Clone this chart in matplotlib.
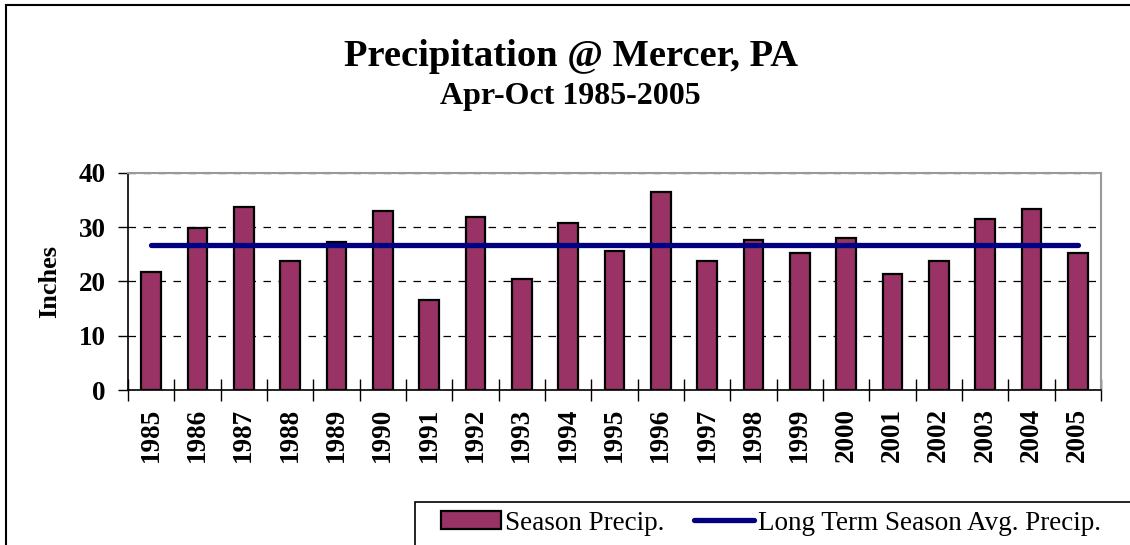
import numpy as np
import matplotlib.pyplot as plt
from matplotlib.patches import Rectangle

years = [str(y) for y in range(1985, 2006)]
season_precip = [21.7, 29.9, 33.8, 23.7, 27.3, 33.0, 16.6, 31.8, 20.5, 30.7, 25.6,
                 36.5, 23.7, 27.6, 25.2, 28.0, 21.3, 23.7, 31.5, 33.4, 25.2]
long_term_avg = 26.7

plt.rcParams['font.family'] = ['Liberation Serif', 'DejaVu Serif']

fig = plt.figure(figsize=(11.3, 5.45), dpi=100)
ax = fig.add_axes([0.1133, 0.2844, 0.861, 0.3982])

x = np.arange(len(years))
bars = ax.bar(x, season_precip, width=0.42, color='#993366', edgecolor='black',
              linewidth=1.6, zorder=3, label='Season Precip.')
avg_line, = ax.plot([x[0], x[-1]], [long_term_avg] * 2, color='#000080', lw=3.8,
                    solid_capstyle='round', zorder=4,
                    label='Long Term Season Avg. Precip.')

ax.set_xlim(-0.5, len(years) - 0.5)
ax.set_ylim(0, 40)
ax.set_yticks([0, 10, 20, 30, 40])
ax.yaxis.grid(True, color='black', linestyle=(0, (6, 6)), lw=0.9)
ax.set_axisbelow(True)

ax.set_xticks(x)
ax.set_xticklabels(years, rotation=90, fontsize=19.5, fontweight='bold')
ax.set_xticks(np.arange(-0.5, len(years)), minor=True)
ax.tick_params(axis='x', which='major', length=0, pad=13)
ax.tick_params(axis='x', which='minor', direction='inout', length=16, width=1)
ax.tick_params(axis='y', direction='out', length=7, width=1, labelsize=19.5, pad=9)
for lbl in ax.get_yticklabels():
    lbl.set_fontweight('bold')

ax.set_ylabel('Inches', fontsize=19, fontweight='bold', labelpad=13)

ax.spines['top'].set_color('#999999')
ax.spines['right'].set_color('#999999')
ax.spines['top'].set_linewidth(1.5)
ax.spines['right'].set_linewidth(1.5)
ax.spines['left'].set_linewidth(1.2)
ax.spines['bottom'].set_linewidth(1.2)

fig.text(0.505, 1 - 66 / 545, 'Precipitation @ Mercer, PA', ha='center', va='baseline',
         fontsize=27.7, fontweight='bold')
fig.text(0.505, 1 - 104 / 545, 'Apr-Oct 1985-2005', ha='center', va='baseline',
         fontsize=23, fontweight='bold')

# outer chart border (runs off the right / bottom edge)
fig.patches.append(Rectangle((6 / 1130, -0.1), 1.2, 1.1 - 5 / 545, transform=fig.transFigure,
                             fill=False, edgecolor='black', lw=1.5))
# legend box
fig.patches.append(Rectangle((415 / 1130, -0.1), 0.7, 0.1 + 1 - 502 / 545, transform=fig.transFigure,
                             fill=False, edgecolor='black', lw=1.2))

fig.legend(handles=[bars, avg_line], loc='center left',
           bbox_to_anchor=(417 / 1130, 1 - 523 / 545), ncol=2, frameon=False,
           fontsize=19.5, handlelength=2.2, handleheight=0.6, handletextpad=0.15,
           columnspacing=1.1)

fig.savefig('out.png', dpi=100)
